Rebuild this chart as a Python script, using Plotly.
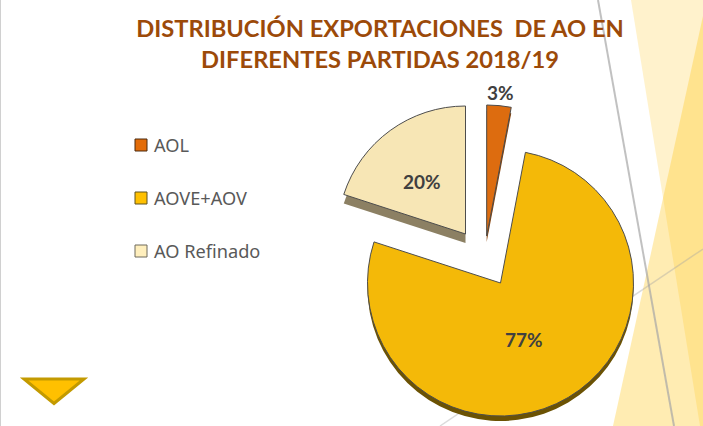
import plotly.graph_objects as go

W, H = 703, 426
labels = ["AOL", "AOVE+AOV", "AO Refinado"]
values = [3, 77, 20]
title_lines = ["DISTRIBUCIÓN EXPORTACIONES  DE AO EN", "DIFERENTES PARTIDAS 2018/19"]
face_colors = ["#DD6C0F", "#F4B908", "#F7E6B5"]
side_colors = ["#8A4208", "#6B5203", "#8C8063"]
swatch_colors = ["#E36C09", "#FFC000", "#FFEFBD"]
swatch_lines = ["#4A2A10", "#5F5320", "#6E6A5C"]
swatch_rows = [145, 198, 251]
centers = [(486.7, 236), (500.5, 283), (465.5, 234)]
radii = [131, 133, 128]
depths = [6, 5, 9]
label_xy = [(500, 92), (524, 339), (422, 182)]


def px(x):
    return x / W


def py(y):
    return 1 - y / H


def dom(cx, cy, r):
    return dict(x=[px(cx - r), px(cx + r)], y=[py(cy + r), py(cy - r)])


fig = go.Figure()
clear = "rgba(0,0,0,0)"

for i in range(3):
    cx, cy = centers[i]
    r = radii[i]
    colors = [clear] * 3
    colors[i] = side_colors[i]
    fig.add_trace(go.Pie(
        labels=labels, values=values, sort=False, direction="clockwise", rotation=0,
        domain=dom(cx, cy + depths[i], r), textinfo="none", hoverinfo="skip", showlegend=False,
        marker=dict(colors=colors, line=dict(width=0)),
    ))

for i in range(3):
    cx, cy = centers[i]
    r = radii[i]
    colors = [clear] * 3
    colors[i] = face_colors[i]
    widths = [0, 0, 0]
    widths[i] = 1
    fig.add_trace(go.Pie(
        labels=labels, values=values, sort=False, direction="clockwise", rotation=0,
        domain=dom(cx, cy, r), textinfo="none", showlegend=False,
        marker=dict(colors=colors, line=dict(color="#4D4D4D", width=widths)),
    ))

# Legend entries keep the text; the swatches sit closer to it than plotly allows, so they are shapes.
for name in labels:
    fig.add_trace(go.Scatter(
        x=[None], y=[None], mode="markers", name=name, legendgroup=name,
        marker=dict(symbol="square", size=12, color=clear),
    ))

shapes = [
    dict(type="path", path=f"M {px(631)} {py(0)} L {px(703)} {py(0)} L {px(703)} {py(426)} L {px(700)} {py(426)} Z",
         fillcolor="rgba(255,192,0,0.2)", line=dict(width=0)),
    dict(type="path", path=f"M {px(613)} {py(426)} L {px(703)} {py(16)} L {px(703)} {py(426)} Z",
         fillcolor="rgba(255,192,0,0.3)", line=dict(width=0)),
    dict(type="line", x0=px(598), y0=py(0), x1=px(674), y1=py(426), line=dict(color="rgba(166,166,166,0.7)", width=2)),
    dict(type="line", x0=px(703), y0=py(249), x1=px(440), y1=py(426), line=dict(color="rgba(166,166,166,0.4)", width=1.5)),
    dict(type="line", x0=px(0.5), y0=py(0), x1=px(0.5), y1=py(426), line=dict(color="#D0D0D0", width=1)),
    dict(type="path", path=f"M {px(24)} {py(379)} L {px(84)} {py(379)} L {px(54)} {py(403.5)} Z",
         fillcolor="#FFC000", line=dict(color="#C39A00", width=3)),
]
for row, c, lc in zip(swatch_rows, swatch_colors, swatch_lines):
    shapes.append(dict(type="rect", x0=px(135), x1=px(147), y0=py(row - 6), y1=py(row + 6),
                       fillcolor=c, line=dict(color=lc, width=1)))
for s in shapes:
    s.update(xref="paper", yref="paper", layer="below")

annotations = [
    dict(x=px(x), y=py(y), xref="paper", yref="paper", xanchor="center", yanchor="middle",
         text=f"<b>{v}%</b>", showarrow=False,
         font=dict(family="Lato", size=19, color="#404040"))
    for (x, y), v in zip(label_xy, values)
]

fig.update_layout(
    width=W, height=H, margin=dict(l=0, r=0, t=0, b=0),
    paper_bgcolor="white", plot_bgcolor="rgba(0,0,0,0)",
    xaxis=dict(visible=False), yaxis=dict(visible=False),
    title=dict(text="<b>" + "<br>".join(title_lines) + "</b>", x=380 / W, xanchor="center",
               y=py(37), yanchor="middle", font=dict(family="Lato", size=23.7, color="#9C4A09")),
    legend=dict(x=px(121), y=py(127), xanchor="left", yanchor="top", tracegroupgap=26,
                indentation=-7,
                font=dict(family="Noto Sans", size=18.2, color="#595959"),
                bgcolor=clear, itemsizing="constant"),
    shapes=shapes, annotations=annotations,
)

fig.write_html("out.html", config=dict(displayModeBar=False),
               post_script="document.body.style.margin='0';")
